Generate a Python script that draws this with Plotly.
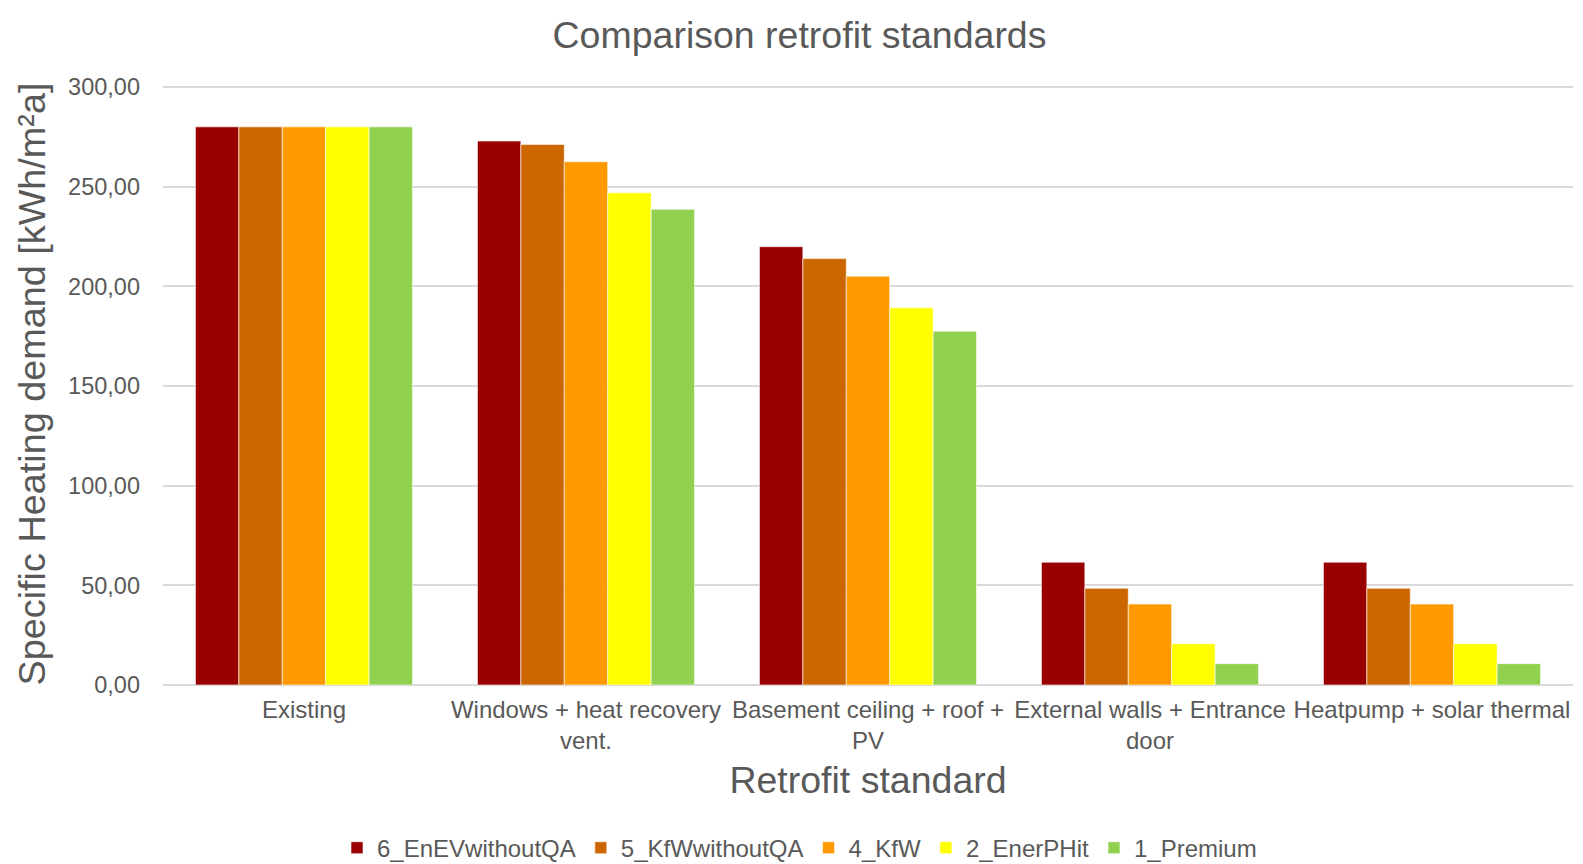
import plotly.graph_objects as go

categories = [
    "Existing",
    "Windows + heat recovery<br>vent.",
    "Basement ceiling + roof +<br>PV",
    "External walls + Entrance<br>door",
    "Heatpump + solar thermal",
]
series_names = ["6_EnEVwithoutQA", "5_KfWwithoutQA", "4_KfW", "2_EnerPHit", "1_Premium"]
s6_enev = [280.0, 272.9, 219.9, 61.6, 61.6]
s5_kfw_noqa = [280.0, 271.2, 213.9, 48.5, 48.5]
s4_kfw = [280.0, 262.5, 205.1, 40.6, 40.6]
s2_enerphit = [280.0, 246.9, 189.2, 20.7, 20.7]
s1_premium = [280.0, 238.7, 177.5, 10.7, 10.7]
colors = ["#990000", "#CC6600", "#FF9900", "#FFFF00", "#92D050"]
tick_vals = [0, 50, 100, 150, 200, 250, 300]
tick_text = ["0,00", "50,00", "100,00", "150,00", "200,00", "250,00", "300,00"]

series_values = [s6_enev, s5_kfw_noqa, s4_kfw, s2_enerphit, s1_premium]

FONT = "Liberation Sans, Arial, sans-serif"
GREY = "#595959"

fig = go.Figure()
for name, vals, col in zip(series_names, series_values, colors):
    fig.add_trace(go.Bar(
        name=name, x=categories, y=vals,
        marker=dict(color=col, line=dict(color="rgba(255,255,255,0.6)", width=1)),
    ))

fig.update_layout(
    width=1583, height=864, autosize=False,
    paper_bgcolor="white", plot_bgcolor="white",
    font=dict(family=FONT, color=GREY, size=24),
    barmode="group", bargap=0.23, bargroupgap=0,
    margin=dict(l=155, r=18, t=75, b=187, autoexpand=False),
    title=dict(text="Comparison retrofit standards", x=0.5, xref="container",
               y=1 - 27 / 864, yref="container", xanchor="center", yanchor="middle",
               font=dict(size=37.5, color=GREY, family=FONT)),
    legend=dict(orientation="h", x=(791.5 - 155) / 1410, xanchor="center",
                y=-0.271, yanchor="middle", font=dict(size=24, color=GREY),
                itemwidth=30, traceorder="normal"),
    xaxis=dict(
        title=dict(text="Retrofit standard", font=dict(size=37.5, color=GREY), standoff=13),
        showgrid=False, showline=False, ticks="", tickfont=dict(size=24, color=GREY),
        tickangle=0, automargin=False, ticklabelstandoff=8,
    ),
    yaxis=dict(
        title=dict(text="Specific Heating demand [kWh/m²a]", font=dict(size=37.8, color=GREY), standoff=10),
        range=[0, 302], tickvals=tick_vals, ticktext=tick_text,
        showgrid=True, gridcolor="#D9D9D9", gridwidth=1.5,
        zeroline=True, zerolinecolor="#D9D9D9", zerolinewidth=1.5,
        showline=False, ticks="", tickfont=dict(size=23.5, color=GREY),
        ticklabelstandoff=22, automargin=False,
    ),
)

fig.write_html("out.html")
